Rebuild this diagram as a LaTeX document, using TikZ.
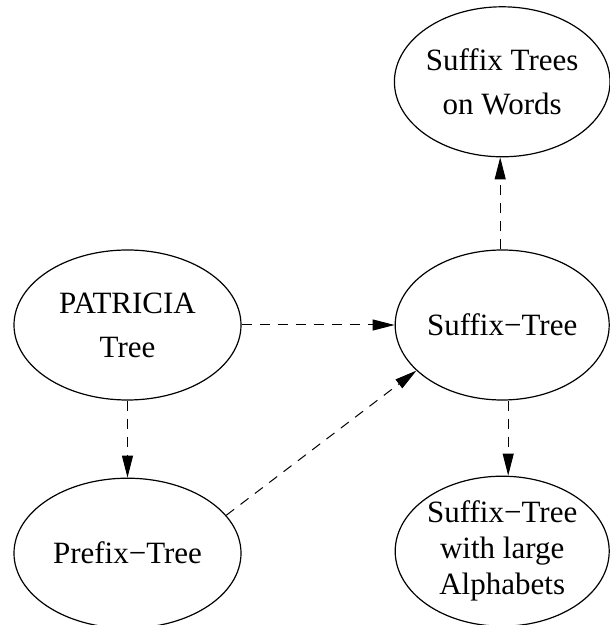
\documentclass[tikz,border=0pt]{standalone}
\usepackage{fontspec}
\setmainfont{Liberation Serif}[Ligatures=NoCommon]
\usetikzlibrary{arrows.meta, positioning, shapes.geometric}

\begin{document}
\begin{tikzpicture}[
  node distance=38.5pt and 76.5pt,
  blob/.style={draw, ellipse, line width=0.6pt, inner sep=0pt, align=center,
               minimum height=75pt, font=\fontsize{15.5pt}{18pt}\selectfont},
  wide/.style={blob, minimum width=113.5pt},
  narrow/.style={blob, minimum width=107pt},
  arr/.style={-{Triangle[length=11pt, width=5.5pt]}, line width=0.5pt,
              dash pattern=on 5pt off 4pt}
]
  \useasboundingbox (-63.75pt,-150pt) rectangle (240.75pt,162.5pt);

  % left column
  \node[wide] (patricia) {PATRICIA\\[4pt]Tree};
  \node[wide, below=of patricia] (prefix) {Prefix−Tree};

  % right column
  \node[narrow, right=of patricia] (suffix) {Suffix−Tree};
  \node[narrow, above=46pt of suffix] (words) {Suffix Trees\\[4pt]on Words};
  \node[narrow, below=37.5pt of suffix] (alpha) {Suffix−Tree\\with large\\Alphabets};

  % arrows
  \draw[arr] (patricia) -- (suffix);
  \draw[arr] (patricia) -- (prefix);
  \draw[arr] (prefix.21) -- (suffix.208);
  \draw[arr] ([xshift=-1pt]suffix.north) -- ([xshift=-1pt]words.south);
  \draw[arr] ([xshift=3pt]suffix.south) -- ([xshift=3pt]alpha.north);
\end{tikzpicture}
\end{document}
